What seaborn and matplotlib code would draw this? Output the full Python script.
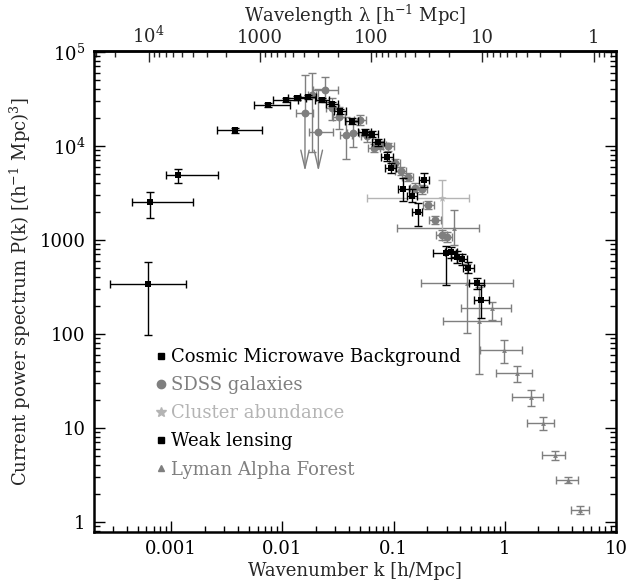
import numpy as np
import pandas as pd
import matplotlib
matplotlib.use("Agg")
import matplotlib.pyplot as plt
from matplotlib.lines import Line2D
from matplotlib.ticker import FixedLocator, FixedFormatter, NullFormatter, LogLocator
import seaborn as sns

# ---------------- data ----------------
# CMB (black squares): k, P, k_lo, k_hi, P_lo, P_hi
cmb_k    = [0.000625, 0.000647, 0.00116, 0.00376, 0.0075, 0.0107, 0.0135, 0.0171, 0.0229, 0.0282, 0.0330, 0.0421, 0.0555, 0.0637, 0.0729, 0.0869, 0.0944]
cmb_P    = [340, 2520, 4875, 14560, 27100, 30600, 32400, 32900, 30800, 27800, 23400, 18300, 14000, 13300, 10900, 7690, 5790]
cmb_klo  = [0.000283, 0.000446, 0.00090, 0.00258, 0.00557, 0.0083, 0.0113, 0.0143, 0.0198, 0.0245, 0.0290, 0.0365, 0.048, 0.056, 0.064, 0.077, 0.084]
cmb_khi  = [0.00135, 0.00157, 0.00264, 0.00654, 0.0117, 0.0139, 0.0163, 0.0200, 0.0262, 0.0320, 0.0375, 0.0480, 0.063, 0.072, 0.082, 0.098, 0.106]
cmb_Plo  = [98, 1714, 4000, 13600, 25700, 29200, 31000, 31500, 29300, 26300, 22000, 17000, 12900, 12300, 10000, 6900, 5100]
cmb_Phi  = [588, 3266, 5650, 15500, 28500, 32000, 33800, 34300, 32300, 29300, 24800, 19600, 15100, 14300, 11800, 8500, 6500]

# SDSS galaxies (gray circles)
sdss_k   = [0.0184, 0.0242, 0.0282, 0.0324, 0.0372, 0.0430, 0.0500, 0.0575, 0.067, 0.0757, 0.0897, 0.103, 0.1167, 0.134, 0.156, 0.1795, 0.206, 0.236, 0.271, 0.300]
sdss_P   = [34300, 39400, 25200, 20200, 12900, 13800, 18900, 12700, 9470, 10260, 9840, 6640, 5460, 4710, 3600, 3460, 2356, 1634, 1130, 1069]
sdss_klo = [0.0170, 0.0190, 0.0245, 0.0285, 0.033, 0.038, 0.044, 0.051, 0.059, 0.067, 0.080, 0.092, 0.104, 0.120, 0.140, 0.160, 0.185, 0.210, 0.240, 0.270]
sdss_khi = [0.0200, 0.0319, 0.0325, 0.0370, 0.042, 0.049, 0.057, 0.065, 0.076, 0.086, 0.100, 0.115, 0.130, 0.150, 0.174, 0.200, 0.230, 0.265, 0.300, 0.335]
sdss_Plo = [8690, 29600, 19000, 15000, 7270, 9800, 16500, 11000, 8500, 9300, 8900, 6000, 4900, 4200, 3200, 3100, 2150, 1480, 1000, 950]
sdss_Phi = [59300, 53300, 32000, 26000, 20200, 17800, 21500, 14500, 10500, 11300, 10800, 7300, 6000, 5200, 4000, 3850, 2580, 1800, 1270, 1200]

# SDSS upper-limit points (arrows)
sdssul_k   = [0.0160, 0.0211]
sdssul_P   = [22300, 14200]
sdssul_klo = [0.0133, 0.0175]
sdssul_khi = [0.0190, 0.0286]
sdssul_Phi = [56900, 40000]
sdssul_tip = [5360, 5360]

# Cluster abundance (light gray star)
cl_k   = [0.271]
cl_P   = [2780]
cl_klo = [0.0574]
cl_khi = [0.480]
cl_Plo = [1150]
cl_Phi = [4350]

# Weak lensing (black squares)
wl_k   = [0.1225, 0.1466, 0.165, 0.189, 0.294, 0.329, 0.370, 0.415, 0.470, 0.560, 0.612]
wl_P   = [3460, 2940, 1972, 4345, 722, 739, 664, 624, 507, 346, 230]
wl_klo = [0.110, 0.132, 0.148, 0.170, 0.225, 0.29, 0.33, 0.37, 0.42, 0.48, 0.53]
wl_khi = [0.137, 0.162, 0.182, 0.210, 0.364, 0.37, 0.41, 0.46, 0.53, 0.65, 0.72]
wl_Plo = [2600, 2500, 1400, 3690, 328, 640, 570, 540, 440, 300, 146]
wl_Phi = [4500, 3450, 2480, 5200, 850, 840, 760, 710, 580, 390, 330]

# Lyman alpha forest (gray triangles)
ly_k   = [0.350, 0.458, 0.586, 0.774, 0.99, 1.29, 1.71, 2.21, 2.82, 3.68, 4.74]
ly_P   = [1330, 346, 138, 190, 67.6, 38.2, 21.2, 11.2, 5.17, 2.80, 1.34]
ly_klo = [0.108, 0.178, 0.277, 0.407, 0.60, 0.83, 1.16, 1.57, 2.15, 2.9, 3.9]
ly_khi = [0.59, 1.18, 0.92, 1.13, 1.43, 1.77, 2.2, 2.77, 3.5, 4.6, 5.7]
ly_Plo = [885, 103, 37, 140, 49, 31, 17, 9.6, 4.6, 2.6, 1.22]
ly_Phi = [2085, 560, 316, 220, 87, 46, 25.5, 13.2, 5.7, 3.0, 1.46]

legend_labels = ["Cosmic Microwave Background", "SDSS galaxies", "Cluster abundance",
                 "Weak lensing", "Lyman Alpha Forest"]
xtick_vals = [0.001, 0.01, 0.1, 1, 10]
xtick_labels = ["0.001", "0.01", "0.1", "1", "10"]
ytick_vals = [1, 10, 100, 1000, 1e4, 1e5]
ytick_labels = ["1", "10", "100", "1000", "10$^4$", "10$^5$"]
lam_vals = [1e4, 1000, 100, 10, 1]
lam_labels = ["10$^4$", "1000", "100", "10", "1"]

# ---------------- style ----------------
sns.set_style("ticks")
plt.rcParams["font.family"] = ["DejaVu Serif"]
plt.rcParams["mathtext.fontset"] = "dejavuserif"

BLACK = "#000000"
GRAY = "#7f7f7f"
LIGHT = "#b4b4b4"
FS = 13

fig = plt.figure(figsize=(6.28, 5.86), dpi=100)
ax = fig.add_axes([94/628, 1-532/586, (616-94)/628, (532-51)/586])
ax.set_xscale("log")
ax.set_yscale("log")


def ebars(k, P, klo, khi, Plo, Phi, color, lw=1.0, z=2):
    k = np.asarray(k, float); P = np.asarray(P, float)
    xerr = [k - np.asarray(klo), np.asarray(khi) - k]
    yerr = [P - np.asarray(Plo), np.asarray(Phi) - P]
    ax.errorbar(k, P, xerr=xerr, yerr=yerr, fmt="none", ecolor=color,
                elinewidth=lw, capsize=2.6, capthick=lw, zorder=z)


ebars(ly_k, ly_P, ly_klo, ly_khi, ly_Plo, ly_Phi, GRAY, z=2)
ebars(cl_k, cl_P, cl_klo, cl_khi, cl_Plo, cl_Phi, LIGHT, z=2)
ebars(sdss_k, sdss_P, sdss_klo, sdss_khi, sdss_Plo, sdss_Phi, GRAY, z=3)
# upper-limit SDSS points
k_ul = np.asarray(sdssul_k); P_ul = np.asarray(sdssul_P)
ax.errorbar(k_ul, P_ul, xerr=[k_ul - np.asarray(sdssul_klo), np.asarray(sdssul_khi) - k_ul],
            yerr=[np.zeros_like(P_ul), np.asarray(sdssul_Phi) - P_ul],
            fmt="none", ecolor=GRAY, elinewidth=1.0, capsize=2.6, capthick=1.0, zorder=3)
for kk, pp, tt in zip(sdssul_k, sdssul_P, sdssul_tip):
    ax.annotate("", xy=(kk, tt), xytext=(kk, pp), zorder=3,
                arrowprops=dict(arrowstyle="->,head_length=1.3,head_width=0.3",
                                color=GRAY, lw=1.0, shrinkA=0, shrinkB=0))
ebars(cmb_k, cmb_P, cmb_klo, cmb_khi, cmb_Plo, cmb_Phi, BLACK, z=4)
ebars(wl_k, wl_P, wl_klo, wl_khi, wl_Plo, wl_Phi, BLACK, z=4)

# markers via seaborn
df = pd.concat([
    pd.DataFrame({"k": ly_k, "P": ly_P, "set": legend_labels[4]}),
    pd.DataFrame({"k": cl_k, "P": cl_P, "set": legend_labels[2]}),
    pd.DataFrame({"k": sdss_k + sdssul_k, "P": sdss_P + sdssul_P, "set": legend_labels[1]}),
    pd.DataFrame({"k": cmb_k, "P": cmb_P, "set": legend_labels[0]}),
    pd.DataFrame({"k": wl_k, "P": wl_P, "set": legend_labels[3]}),
])
style = {legend_labels[0]: ("s", BLACK, 24),
         legend_labels[1]: ("o", GRAY, 32),
         legend_labels[2]: ("*", LIGHT, 36),
         legend_labels[3]: ("s", BLACK, 24),
         legend_labels[4]: ("^", GRAY, 12)}
zord = {legend_labels[4]: 2.5, legend_labels[2]: 2.5, legend_labels[1]: 3.5,
        legend_labels[0]: 5, legend_labels[3]: 5}
for name in [legend_labels[4], legend_labels[2], legend_labels[1], legend_labels[0], legend_labels[3]]:
    sub = df[df["set"] == name]
    m, c, s = style[name]
    sns.scatterplot(data=sub, x="k", y="P", marker=m, color=c, s=s, linewidth=0,
                    ax=ax, zorder=zord[name], legend=False)

ax.set_xlim(2.03e-4, 10)
ax.set_ylim(0.78, 1.02e5)

# ticks
ax.xaxis.set_major_locator(FixedLocator(xtick_vals))
ax.xaxis.set_major_formatter(FixedFormatter(xtick_labels))
ax.xaxis.set_minor_locator(LogLocator(base=10, subs=np.arange(2, 10), numticks=20))
ax.xaxis.set_minor_formatter(NullFormatter())
ax.yaxis.set_major_locator(FixedLocator(ytick_vals))
ax.yaxis.set_major_formatter(FixedFormatter(ytick_labels))
ax.yaxis.set_minor_locator(LogLocator(base=10, subs=np.arange(2, 10), numticks=20))
ax.yaxis.set_minor_formatter(NullFormatter())
ax.tick_params(which="both", direction="in", top=False, right=True, labelsize=FS, pad=6, colors="black")
ax.tick_params(which="major", length=8, width=1.0)
ax.tick_params(which="minor", length=4, width=1.0)
for sp in ax.spines.values():
    sp.set_linewidth(1.8)
    sp.set_color("black")

ax.set_xlabel("Wavenumber k [h/Mpc]", fontsize=FS, labelpad=3)
ax.set_ylabel("Current power spectrum P(k) [(h$^{-1}$ Mpc)$^3$]", fontsize=FS, labelpad=5)

sec = ax.secondary_xaxis("top", functions=(lambda k: 2*np.pi/k, lambda l: 2*np.pi/l))
sec.xaxis.set_major_locator(FixedLocator(lam_vals))
sec.xaxis.set_major_formatter(FixedFormatter(lam_labels))
sec.xaxis.set_minor_locator(LogLocator(base=10, subs=np.arange(2, 10), numticks=20))
sec.xaxis.set_minor_formatter(NullFormatter())
sec.tick_params(which="both", direction="in", labelsize=FS, pad=3)
sec.tick_params(which="major", length=8, width=1.0)
sec.tick_params(which="minor", length=4, width=1.0)
sec.spines["top"].set_linewidth(1.8)
sec.set_xlabel("Wavelength λ [h$^{-1}$ Mpc]", fontsize=FS, labelpad=3)

# legend
msz = {legend_labels[0]: 5, legend_labels[1]: 6, legend_labels[2]: 7,
       legend_labels[3]: 5, legend_labels[4]: 5}
handles = [Line2D([], [], ls="none", marker=style[n][0], color=style[n][1],
                  markersize=msz[n]) for n in legend_labels]
leg = ax.legend(handles, legend_labels, loc="lower left", bbox_to_anchor=(0.106, 0.096),
                frameon=False, fontsize=FS, handlelength=0.5, handletextpad=0.3,
                labelspacing=0.56, borderaxespad=0,
                labelcolor=[BLACK, GRAY, LIGHT, BLACK, GRAY])

fig.savefig("out.png", dpi=100)
